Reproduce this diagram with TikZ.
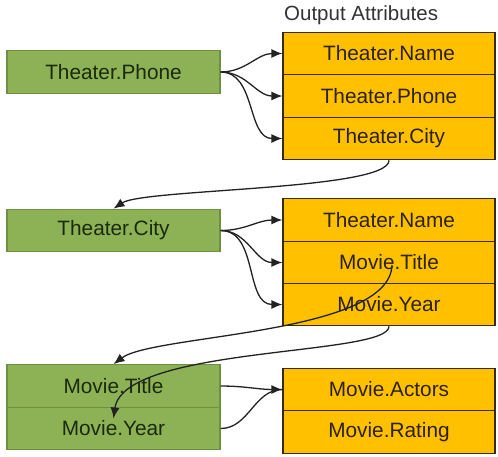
\documentclass[tikz,border=0pt]{standalone}
\usepackage{fontspec}
\setmainfont{Liberation Sans}
\usetikzlibrary{arrows.meta}
\definecolor{attrgreen}{HTML}{8DB255}
\definecolor{attrgreenline}{HTML}{6F9040}
\definecolor{attrorange}{HTML}{FFC000}
\definecolor{attrorangeline}{HTML}{3A2A05}
\definecolor{greentext}{HTML}{1B2A0C}
\definecolor{orangetext}{HTML}{2E2205}
\definecolor{linkcolor}{HTML}{222222}
\tikzset{
  inattr/.style={draw=attrgreenline, fill=attrgreen, line width=1.2pt,
    minimum width=213pt, minimum height=42.5pt, inner sep=0pt,
    text=greentext, font=\fontsize{20.8}{24}\selectfont},
  outattr/.style={draw=attrorangeline, fill=attrorange, line width=1.2pt,
    minimum width=212pt, minimum height=42.5pt, inner sep=0pt,
    text=orangetext, font=\fontsize{20.8}{24}\selectfont},
  link/.style={draw=linkcolor, line width=1.3pt,
    -{Latex[length=11pt,width=9pt]}},
  linknotip/.style={draw=linkcolor, line width=1.3pt}
}
\begin{document}
\begin{tikzpicture}[x=1pt,y=-1pt]
\useasboundingbox (0,0) rectangle (498,456);

% heading over the first output stack
\node[anchor=west, inner sep=0pt, text=black!80,
  font=\fontsize{20.5}{24}\selectfont] (heading) at (284,15) {Output Attributes};

% first stage
\node[inattr] (g1) at (113.5,72) {Theater.Phone};
\node[outattr] (o1a) at (389,53.5) {Theater.Name};
\node[outattr] (o1b) at (389,96) {Theater.Phone};
\node[outattr] (o1c) at (389,138.5) {Theater.City};

% second stage
\node[inattr] (g2) at (113.5,230.5) {Theater.City};
\node[outattr] (o2a) at (389,220) {Theater.Name};
\node[outattr] (o2b) at (389,262.5) {Movie.Title};
\node[outattr] (o2c) at (389,304.5) {Movie.Year};

% third stage
\node[inattr] (g3a) at (113.5,386) {Movie.Title};
\node[inattr] (g3b) at (113.5,428.5) {Movie.Year};
\node[outattr] (o3a) at (389,389.5) {Movie.Actors};
\node[outattr] (o3b) at (389,432) {Movie.Rating};

% fan-out connectors
\draw[link] (g1.east) to[out=0,in=180] (o1a.west);
\draw[link] (g1.east) to[out=0,in=180] (o1b.west);
\draw[link] (g1.east) to[out=0,in=180] (o1c.west);

\draw[link] (g2.east) to[out=0,in=180] (o2a.west);
\draw[link] (g2.east) to[out=0,in=180] (o2b.west);
\draw[link] (g2.east) to[out=0,in=180] (o2c.west);

\draw[link] (g3a.east) to[out=0,in=180] (o3a.west);
\draw[linknotip] (g3b.east) to[out=0,in=180] (o3a.west);

% outputs fed back as inputs of the next stage
\coordinate (o2bstart) at ([xshift=3pt,yshift=-2.5pt]o2b.center);
\coordinate (g3bend) at ([yshift=10pt]g3b.center);
\draw[link] (o1c.south) .. controls +(0,30) and +(30,-20) .. (g2.north);
\draw[link] (o2bstart) .. controls +(-2,70) and +(40,-30) .. (g3a.north);
\draw[link] (o2c.south) .. controls +(0,30) and +(10,-73) .. (g3bend);
\end{tikzpicture}
\end{document}
